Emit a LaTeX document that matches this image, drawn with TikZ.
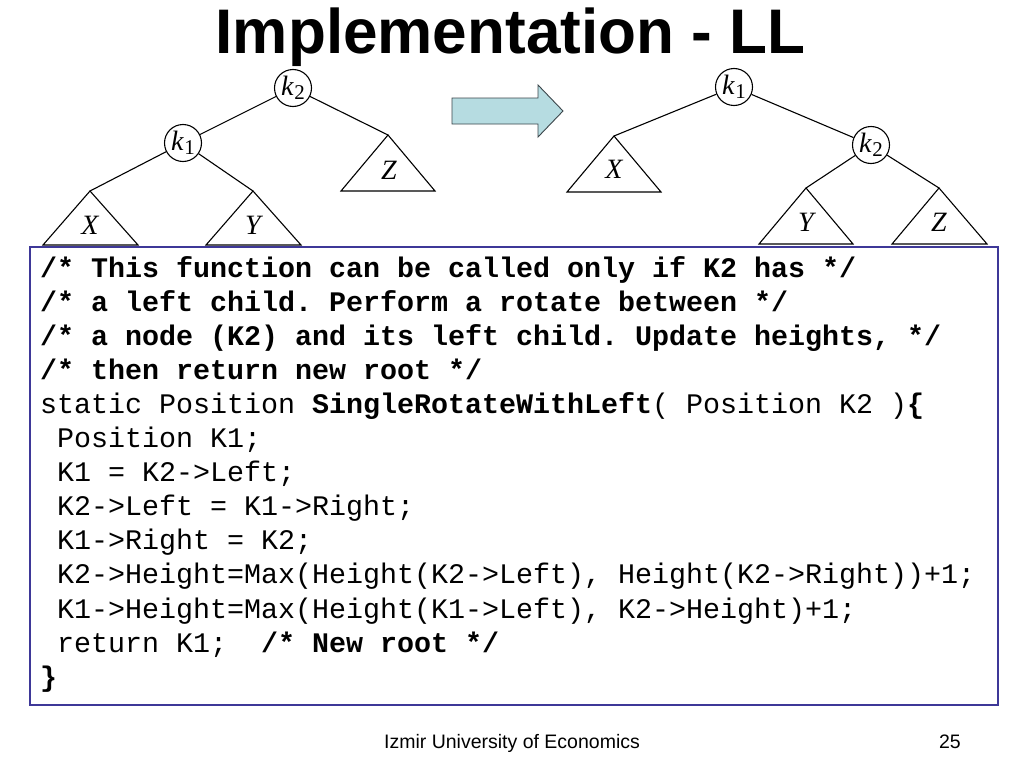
\documentclass[tikz,border=0pt]{standalone}
\usepackage{fontspec}
\setmainfont{Liberation Serif}
\setsansfont{Liberation Sans}
\setmonofont{Liberation Mono}
\definecolor{boxblue}{RGB}{62,56,152}
\definecolor{arrowfill}{RGB}{182,220,225}
\definecolor{arrowline}{RGB}{60,70,75}
\begin{document}
\begin{tikzpicture}[x=1pt,y=-1pt,
  knode/.style={circle,draw,line width=1.1pt,minimum size=37pt,inner sep=0pt,fill=white},
  edge/.style={line width=1.1pt},
  tri/.style={line width=1.1pt},
  tlabel/.style={font=\fontsize{28}{28}\selectfont\itshape,inner sep=0pt},
  codeline/.style={anchor=base west,inner sep=0pt,font=\fontsize{28.33}{34}\selectfont\ttfamily},
  foot/.style={font=\fontsize{19.5}{20}\selectfont\sffamily,inner sep=0pt,anchor=base}
]
\useasboundingbox (0,0) rectangle (1024,768);
\fill[white] (0,0) rectangle (1024,768);

% title
\node[anchor=base,inner sep=0pt,font=\fontsize{63}{63}\selectfont\sffamily\bfseries] (title) at (510.5,53) {\scalebox{0.985}[1]{Implementation - LL}};

\newcommand{\klab}[1]{\fontsize{28}{28}\selectfont\textit{k}\hspace{0.5pt}\raisebox{-4.5pt}{\fontsize{21}{21}\selectfont #1}}

% left tree
\node[knode] (Lk2) at (293,88) {\klab{2}};
\node[knode] (Lk1) at (183,143) {\klab{1}};
\coordinate (LXa) at (90,191);
\coordinate (LYa) at (253,191);
\coordinate (LZa) at (388,135);
\draw[tri] (LXa) -- (43,245) -- (138,245) -- cycle;
\draw[tri] (LYa) -- (206,245) -- (301,245) -- cycle;
\draw[tri] (LZa) -- (341,191) -- (435,191) -- cycle;
\node[tlabel] (LX) at (90,225) {X};
\node[tlabel] (LY) at (253,225) {Y};
\node[tlabel] (LZ) at (389,170) {Z};
\draw[edge] (Lk2) -- (Lk1);
\draw[edge] (Lk2) -- (LZa);
\draw[edge] (Lk1) -- (LXa);
\draw[edge] (Lk1) -- (LYa);

% arrow
\draw[fill=arrowfill,draw=arrowline,line width=0.9pt,line join=miter]
  (452,98) -- (538,98) -- (538,85) -- (563,111) -- (538,137) -- (538,124) -- (452,124) -- cycle;

% right tree
\node[knode] (Rk1) at (734,87) {\klab{1}};
\node[knode] (Rk2) at (871,145) {\klab{2}};
\coordinate (RXa) at (614,136);
\coordinate (RYa) at (806,188);
\coordinate (RZa) at (939,188);
\draw[tri] (RXa) -- (567,192) -- (661,192) -- cycle;
\draw[tri] (RYa) -- (759,244) -- (853,244) -- cycle;
\draw[tri] (RZa) -- (892,244) -- (987,244) -- cycle;
\node[tlabel] (RX) at (614,169) {X};
\node[tlabel] (RY) at (806,222) {Y};
\node[tlabel] (RZ) at (939,222) {Z};
\draw[edge] (Rk1) -- (Rk2);
\draw[edge] (Rk1) -- (RXa);
\draw[edge] (Rk2) -- (RYa);
\draw[edge] (Rk2) -- (RZa);

% code box
\draw[boxblue,line width=2.5pt,fill=white] (30,247) rectangle (998,705);

\node[codeline] (l1) at (40,277) {\textbf{/* This function can be called only if K2 has */}};
\node[codeline] (l2) at (40,311.1) {\textbf{/* a left child. Perform a rotate between */}};
\node[codeline] (l3) at (40,345.2) {\textbf{/* a node (K2) and its left child. Update heights, */}};
\node[codeline] (l4) at (40,379.3) {\textbf{/* then return new root */}};
\node[codeline] (l5) at (40,413.4) {static Position \textbf{SingleRotateWithLeft}( Position K2 )\textbf{\{}};
\node[codeline] (l6) at (40,447.5) {\hspace*{17pt}Position K1;};
\node[codeline] (l7) at (40,481.6) {\hspace*{17pt}K1 = K2->Left;};
\node[codeline] (l8) at (40,515.7) {\hspace*{17pt}K2->Left = K1->Right;};
\node[codeline] (l9) at (40,549.8) {\hspace*{17pt}K1->Right = K2;};
\node[codeline] (l10) at (40,583.9) {\hspace*{17pt}K2->Height=Max(Height(K2->Left), Height(K2->Right))+1;};
\node[codeline] (l11) at (40,618.0) {\hspace*{17pt}K1->Height=Max(Height(K1->Left), K2->Height)+1;};
\node[codeline] (l12) at (40,652.1) {\hspace*{17pt}return K1;\hspace*{34pt}\textbf{/* New root */}};
\node[codeline] (l13) at (40,686.2) {\textbf{\}}};

% footer
\node[foot] (ft) at (512,748) {Izmir University of Economics};
\node[foot,anchor=base east] (pg) at (961,748) {25};
\end{tikzpicture}
\end{document}
